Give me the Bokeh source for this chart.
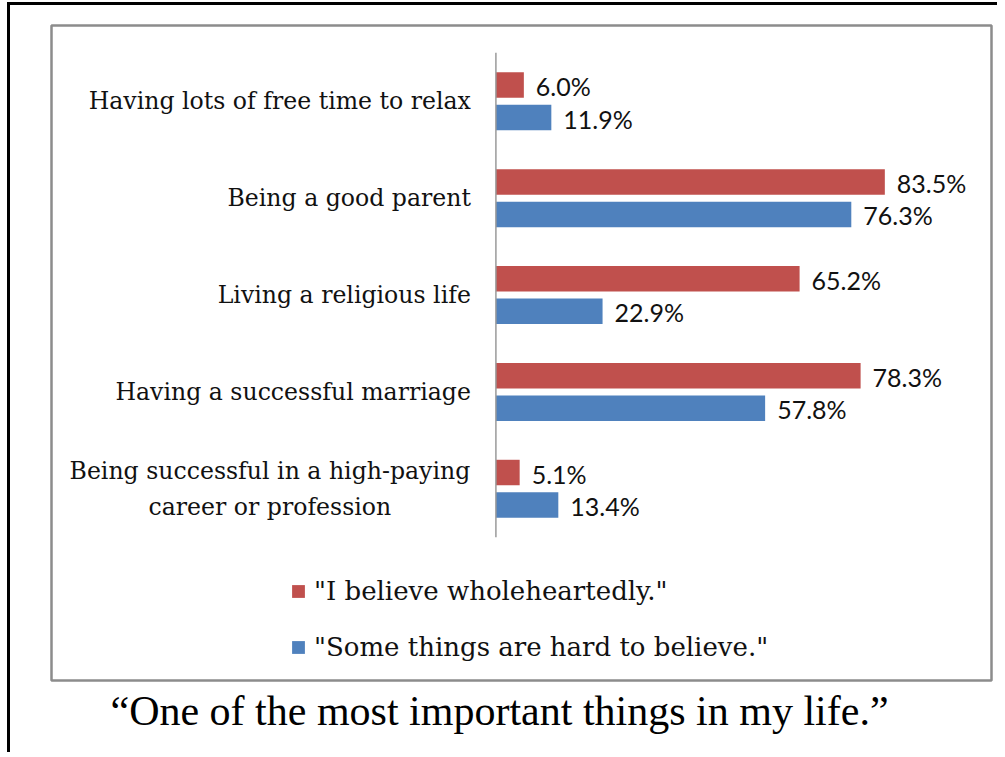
from bokeh.plotting import figure
from bokeh.models import ColumnDataSource, Range1d, Legend, LegendItem, Title
from bokeh.transform import dodge
from bokeh.embed import file_html
from bokeh.resources import INLINE
from bokeh.core.properties import value

# ---------------- data ----------------
categories = [
    "Having lots of free time to relax",
    "Being a good parent",
    "Living a religious life",
    "Having a successful marriage",
    "Being successful in a high-paying\ncareer or profession",
]
wholehearted = [6.0, 83.5, 65.2, 78.3, 5.1]
hard_to_believe = [11.9, 76.3, 22.9, 57.8, 13.4]
series_names = ['"I believe wholeheartedly."', '"Some things are hard to believe."']
chart_title = "\u201cOne of the most important things in my life.\u201d"

# ---------------- style ----------------
RED = "#C0504D"
BLUE = "#4F81BD"
SERIF = "DejaVu Serif"
TITLE_FONT = "Liberation Serif"
SANS = "Lato"

n = len(categories)
src = ColumnDataSource(dict(
    idx=list(range(n)),
    cat=categories,
    cat_align=["center" if "\n" in c else "right" for c in categories],
    cat_xoff=[-226 if "\n" in c else -25 for c in categories],
    red=wholehearted,
    blue=hard_to_believe,
    red_lbl=[f"{v:.1f}%" for v in wholehearted],
    blue_lbl=[f"{v:.1f}%" for v in hard_to_believe],
))

p = figure(
    width=990, height=750,
    x_range=Range1d(-95.41, 106.40),
    y_range=Range1d(5.979, -0.7825),
    x_axis_location=None, y_axis_location=None,
    toolbar_location=None, output_backend="svg",
    min_border_left=41, min_border_right=9,
    min_border_top=20, min_border_bottom=75,
)
p.grid.visible = False
p.outline_line_color = "#8c8c8c"
p.outline_line_width = 2.5
p.background_fill_color = "white"
p.border_fill_color = "white"
p.styles = {"margin-left": "7px", "margin-top": "2px",
            "border-top": "3px solid black", "border-left": "3px solid black"}

off = 0.168
bh = 0.263
r_red = p.hbar(y=dodge("idx", -off, range=p.y_range), left=0, right="red",
               height=bh, fill_color=RED, line_color=None, source=src)
r_blue = p.hbar(y=dodge("idx", off, range=p.y_range), left=0, right="blue",
                height=bh, fill_color=BLUE, line_color=None, source=src)

# category axis line
p.segment(x0=0, y0=-0.5, x1=0, y1=n - 0.5, line_color="#9a9a9a", line_width=1.5)

# value labels
for col, lbl, sign in (("red", "red_lbl", -1), ("blue", "blue_lbl", 1)):
    p.text(x=col, y=dodge("idx", sign * off, range=p.y_range), text=lbl,
           x_offset=12, y_offset=1, text_baseline="middle", text_align="left",
           text_font=value(SANS), text_font_size="25px", text_color="#111111",
           source=src)

# category labels
p.text(x=0, y="idx", text="cat", text_align="cat_align", x_offset="cat_xoff",
       text_baseline="middle", text_font=value(SERIF), text_font_size="23.6px",
       text_color="#111111", text_line_height=1.3, source=src)

legend = Legend(
    items=[LegendItem(label=series_names[0], renderers=[r_red]),
           LegendItem(label=series_names[1], renderers=[r_blue])],
    location=(239, 18), orientation="vertical",
    glyph_width=16, glyph_height=16, label_standoff=8,
    spacing=26, label_height=30, padding=0, margin=0,
    border_line_color=None, background_fill_alpha=0,
    label_text_font=SERIF, label_text_font_size="26px", label_text_color="#111111",
)
p.add_layout(legend)

title = Title(text=chart_title, align="left", offset=59, standoff=10,
              text_font=TITLE_FONT, text_font_size="42px",
              text_font_style="normal", text_color="black")
p.add_layout(title, "below")

open("out.html", "w").write(file_html(p, INLINE))
